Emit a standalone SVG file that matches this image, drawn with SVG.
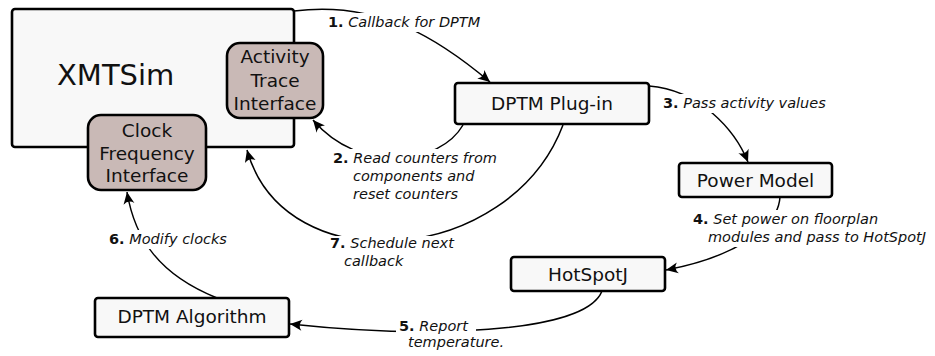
<svg xmlns="http://www.w3.org/2000/svg" width="935" height="356" viewBox="0 0 935 356">
<style>
.box{fill:#f8f8f8;stroke:#000;stroke-width:2.6}
.ifc{fill:#c9b9b6;stroke:#000;stroke-width:2.6}
.nt{font-family:"DejaVu Sans",sans-serif;font-size:18.5px;fill:#111;text-anchor:middle}
.big{font-family:"DejaVu Sans",sans-serif;font-size:29px;fill:#111}
.lb{font-family:"DejaVu Sans",sans-serif;font-size:14.5px;font-style:italic;fill:#111}
.num{font-weight:bold;font-style:normal}
.con{fill:none;stroke:#000;stroke-width:1.5;marker-end:url(#ah)}
.bg{fill:#fff}
</style>
<defs>
<marker id="ah" markerUnits="userSpaceOnUse" markerWidth="16" markerHeight="14" viewBox="-13 -7 14 14" refX="0" refY="0" orient="auto">
<path d="M0,0 L-12,-5.5 Q-7.5,0 -12,5.5 Z" fill="#000"/>
</marker>
</defs>
<rect width="935" height="356" fill="#fff"/>
<g id="connectors">
<path class="con" d="M294,11 C380,0 440,40 490,82"/>
<path class="con" d="M463,125 C440,165 360,175 313,120"/>
<path class="con" d="M649,86 C700,90 735,130 748,162"/>
<path class="con" d="M780,197 C778,230 730,258 666,270"/>
<path class="con" d="M602,291 C585,335 420,338 290,324"/>
<path class="con" d="M217,298 C160,275 135,240 127,192"/>
<path class="con" d="M563,125 C510,265 285,285 247,150"/>
</g>
<g id="labels">
<rect class="bg" x="325" y="13" width="164" height="19"/>
<text class="lb" x="328" y="27"><tspan class="num">1.</tspan> Callback for DPTM</text>
<rect class="bg" x="330" y="149" width="174" height="18"/>
<rect class="bg" x="340" y="167" width="126" height="37"/>
<text class="lb" x="333" y="163"><tspan class="num">2.</tspan> Read counters from</text>
<text class="lb" x="353" y="181">components and</text>
<text class="lb" x="353" y="199">reset counters</text>
<rect class="bg" x="660" y="94" width="175" height="19"/>
<text class="lb" x="663" y="108"><tspan class="num">3.</tspan> Pass activity values</text>
<rect class="bg" x="690" y="210" width="245" height="37"/>
<text class="lb" x="693" y="224"><tspan class="num">4.</tspan> Set power on floorplan</text>
<text class="lb" x="708" y="242">modules and pass to HotSpotJ</text>
<rect class="bg" x="396" y="317" width="80" height="35"/>
<text class="lb" x="399" y="331"><tspan class="num">5.</tspan> Report</text>
<text class="lb" x="408" y="347">temperature.</text>
<rect class="bg" x="106" y="230" width="128" height="19"/>
<text class="lb" x="109" y="244"><tspan class="num">6.</tspan> Modify clocks</text>
<rect class="bg" x="327" y="236" width="116" height="35"/>
<text class="lb" x="330" y="248"><tspan class="num">7.</tspan> Schedule next</text>
<text class="lb" x="344" y="266">callback</text>
</g>
<g id="xmtsim">
<rect class="box" x="12" y="9" width="282" height="138" rx="3"/>
<text class="big" x="57" y="85">XMTSim</text>
</g>
<g id="activity-trace-interface">
<rect class="ifc" x="227" y="43" width="96" height="75" rx="13"/>
<text class="nt" x="275" y="63">Activity</text>
<text class="nt" x="275" y="87">Trace</text>
<text class="nt" x="275" y="110">Interface</text>
</g>
<g id="clock-frequency-interface">
<rect class="ifc" x="88" y="115" width="118" height="75" rx="13"/>
<text class="nt" x="147" y="137">Clock</text>
<text class="nt" x="147" y="160">Frequency</text>
<text class="nt" x="147" y="182">Interface</text>
</g>
<g id="dptm-plugin">
<rect class="box" x="455" y="83" width="194" height="41" rx="3"/>
<text class="nt" x="552" y="110">DPTM Plug-in</text>
</g>
<g id="power-model">
<rect class="box" x="679" y="163" width="153" height="34" rx="3"/>
<text class="nt" x="755.5" y="187">Power Model</text>
</g>
<g id="hotspotj">
<rect class="box" x="511" y="257" width="154" height="34" rx="3"/>
<text class="nt" x="588" y="281">HotSpotJ</text>
</g>
<g id="dptm-algorithm">
<rect class="box" x="95" y="298" width="194" height="39" rx="3"/>
<text class="nt" x="192" y="323">DPTM Algorithm</text>
</g>
</svg>
